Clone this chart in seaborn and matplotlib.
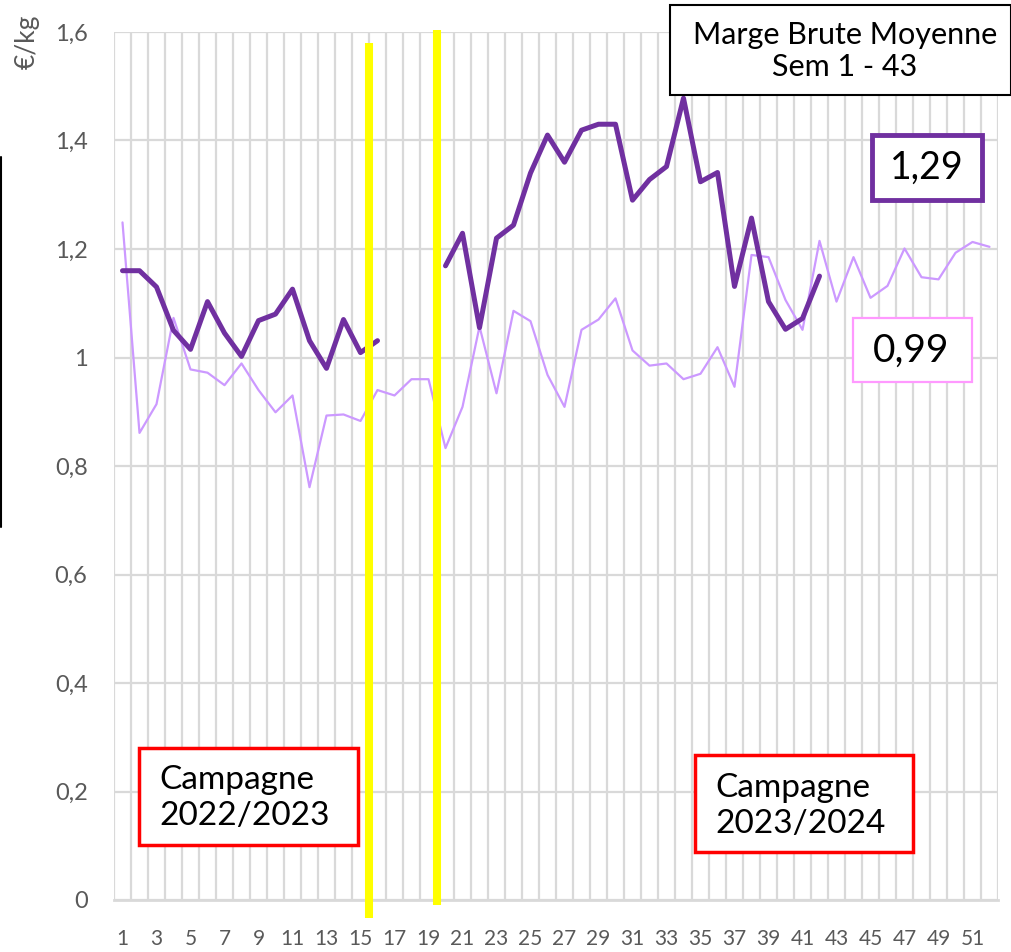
import numpy as np
import pandas as pd
import matplotlib
matplotlib.use("Agg")
import matplotlib.pyplot as plt
from matplotlib.patches import Rectangle
from matplotlib.lines import Line2D
from matplotlib.ticker import FixedLocator, FuncFormatter
import seaborn as sns

# weeks 1..52
weeks = list(range(1, 53))

# current campaign (thick dark line), gap on weeks 17-19, stops at week 42
marge_2324 = [1.16, 1.16, 1.13, 1.05, 1.015, 1.103, 1.045, 1.002, 1.068, 1.08,
              1.126, 1.031, 0.98, 1.07, 1.009, 1.031, None, None, None, 1.169,
              1.229, 1.055, 1.22, 1.244, 1.34, 1.41, 1.36, 1.419, 1.43, 1.43,
              1.29, 1.328, 1.352, 1.478, 1.324, 1.341, 1.131, 1.257, 1.103, 1.052,
              1.072, 1.15]

# previous campaign (thin light line)
marge_2223 = [1.249, 0.861, 0.914, 1.073, 0.978, 0.972, 0.949, 0.989, 0.94, 0.899,
              0.93, 0.761, 0.893, 0.895, 0.883, 0.94, 0.93, 0.96, 0.96, 0.833,
              0.909, 1.057, 0.934, 1.086, 1.067, 0.968, 0.909, 1.051, 1.07, 1.109,
              1.013, 0.985, 0.989, 0.96, 0.97, 1.019, 0.946, 1.189, 1.185, 1.106,
              1.051, 1.215, 1.103, 1.185, 1.11, 1.132, 1.201, 1.148, 1.144, 1.193,
              1.213, 1.204]

moyenne_2324 = "1,29"
moyenne_2223 = "0,99"

DARK = "#7030A0"
LIGHT = "#CC99FF"
GRID = "#D9D9D9"
TXT = "#595959"

W, H = 1012, 952

sns.set_theme(style="white")
plt.rcParams["font.family"] = ["Lato", "DejaVu Sans"]

# dark series split into segments so the gap is kept
seg = []
s = 0
for v in marge_2324:
    if v is None:
        s += 1
    seg.append(s)
df_dark = pd.DataFrame({"semaine": weeks[:len(marge_2324)],
                        "marge": marge_2324, "seg": seg}).dropna()
df_light = pd.DataFrame({"semaine": weeks, "marge": marge_2223})

fig = plt.figure(figsize=(W / 100, H / 100), dpi=100)
ax = fig.add_axes([114 / W, 1 - 900 / H, 884 / W, 868 / H])

sns.lineplot(data=df_light, x="semaine", y="marge", color=LIGHT, lw=1.6,
             ax=ax, zorder=3)
sns.lineplot(data=df_dark, x="semaine", y="marge", units="seg", estimator=None,
             color=DARK, lw=3.6, ax=ax, zorder=4)

ax.set_xlim(0.5, 52.5)
ax.set_ylim(0, 1.6)
ax.set_xlabel("")
ax.set_ylabel("")

ax.yaxis.set_major_locator(FixedLocator(np.arange(0, 1.61, 0.2)))
ax.yaxis.set_major_formatter(FuncFormatter(lambda v, p: ("%g" % round(v, 1)).replace(".", ",")))
ax.xaxis.set_major_locator(FixedLocator(weeks[::2]))
ax.xaxis.set_minor_locator(FixedLocator(np.arange(0.5, 53, 1)))
ax.tick_params(axis="y", length=0, pad=19, labelsize=17, labelcolor=TXT)
ax.tick_params(axis="x", which="both", length=0, pad=21, labelsize=15, labelcolor=TXT)

ax.grid(axis="y", which="major", color=GRID, lw=1.6)
ax.grid(axis="x", which="minor", color=GRID, lw=1.6)
ax.grid(axis="x", which="major", visible=False)
for sp in ["top", "right", "left"]:
    ax.spines[sp].set_visible(False)
ax.spines["bottom"].set_color(GRID)
ax.spines["bottom"].set_linewidth(2)

# yellow markers between campaigns
ax.axvline(15.5, ymin=-0.021, ymax=0.987, color="#FFFF00", lw=5.8, clip_on=False,
           zorder=5, solid_capstyle="butt")
ax.axvline(19.5, ymin=-0.006, ymax=1.002, color="#FFFF00", lw=5.8, clip_on=False,
           zorder=5, solid_capstyle="butt")

fig.text(27 / W, 1 - 42 / H, "€/kg", rotation=90, ha="center", va="center",
         fontsize=19, color=TXT)


def box(x0, y0, x1, y1, ec, lw):
    fig.add_artist(Rectangle((x0 / W, 1 - y1 / H), (x1 - x0) / W, (y1 - y0) / H,
                             transform=fig.transFigure, facecolor="white",
                             edgecolor=ec, lw=lw, zorder=10))


box(670, 5, 1011, 95, "black", 1.5)
fig.text(845 / W, 1 - 51 / H, "Marge Brute Moyenne\nSem 1 - 43", ha="center",
         va="center", fontsize=22, color="black", zorder=11, linespacing=1.2)

box(872, 135, 982, 200, DARK, 3.5)
fig.text(927 / W, 1 - 168 / H, moyenne_2324, ha="center", va="center",
         fontsize=27, color="black", zorder=11)

box(853, 318, 972, 382, "#FF99FF", 1.6)
fig.text(911 / W, 1 - 351 / H, moyenne_2223, ha="center", va="center",
         fontsize=28, color="black", zorder=11)

box(139, 748, 358, 845, "red", 2.5)
fig.text(159 / W, 1 - 798 / H, "Campagne\n2022/2023", ha="left", va="center",
         fontsize=24, color="black", zorder=11, linespacing=1.25)

box(695, 755, 913, 852, "red", 2.5)
fig.text(715 / W, 1 - 806 / H, "Campagne\n2023/2024", ha="left", va="center",
         fontsize=24, color="black", zorder=11, linespacing=1.25)

fig.add_artist(Line2D([1 / W, 1 / W], [1 - 157 / H, 1 - 527 / H],
                      transform=fig.transFigure, color="black", lw=1.5))

fig.savefig("out.png", dpi=100, facecolor="white")
